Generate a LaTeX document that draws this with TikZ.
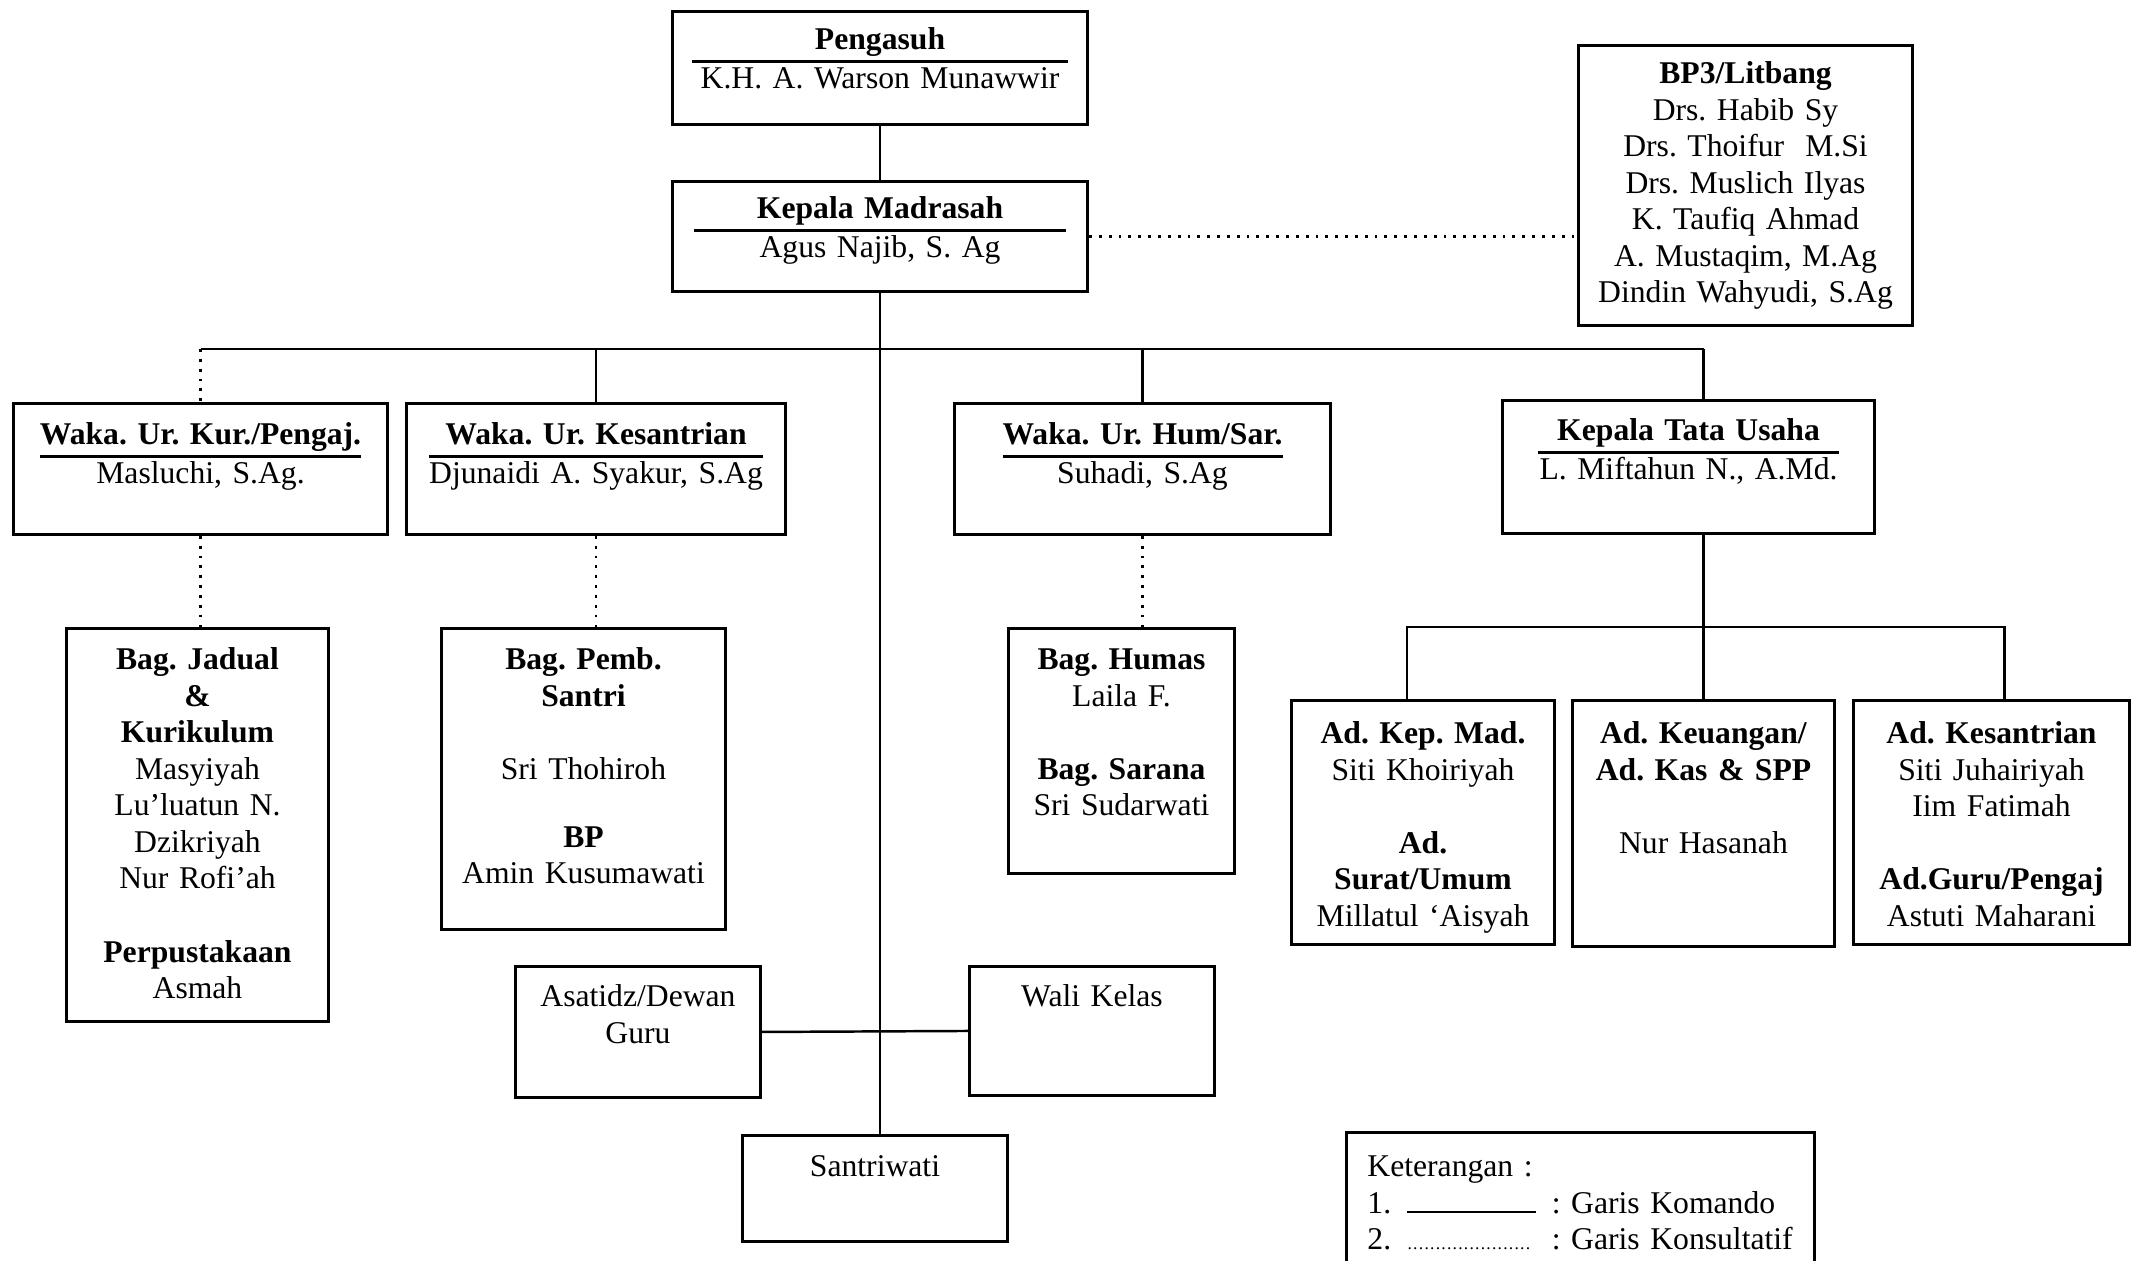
\documentclass[tikz,border=0pt]{standalone}
\usepackage{fontspec}
\setmainfont{Liberation Serif}
\usepackage{tikz}

\newcommand{\judul}[2]{\begin{tabular}[t]{@{}c@{}}\textbf{#1}\\\hline #2\end{tabular}}
\newcommand{\titik}{\leaders\hbox to 1.6pt{\hss\tiny.\hss}\hfill}

\begin{document}
\begin{tikzpicture}[x=0.01cm, y=-0.01cm, font=\fontsize{9}{10.4}\selectfont\frenchspacing,
    box/.style={draw, line width=0.8pt, anchor=north west, inner sep=0pt, align=center},
    komando/.style={line width=0.7pt},
    konsul/.style={line width=0.8pt, dotted}]
    \clip (0,0) rectangle (2137,1260);
    \setlength{\arrayrulewidth}{0.6pt}

    % pimpinan
    \node[box, text width=4.15cm, text height=0.38cm, text depth=0.75cm] (pengasuh) at (671,10)
        {\judul{\makebox[3.75cm]{Pengasuh}}{K.H. A. Warson Munawwir}};
    \node[box, text width=4.15cm, text height=0.37cm, text depth=0.73cm] (kepala) at (671,180)
        {\judul{\makebox[3.72cm]{Kepala Madrasah}}{Agus Najib, S. Ag}};
    \node[box, text width=3.34cm, text height=0.38cm, text depth=2.42cm] (bp3) at (1577,44)
        {\textbf{BP3/Litbang}\\ Drs. Habib Sy\\ Drs. Thoifur~ M.Si\\ Drs. Muslich Ilyas\\
         K. Taufiq Ahmad\\ A. Mustaqim, M.Ag\\ Dindin Wahyudi, S.Ag};

    % wakil kepala
    \node[box, text width=3.74cm, text height=0.41cm, text depth=0.90cm] (wkur) at (12,402)
        {\judul{Waka. Ur. Kur./Pengaj.}{Masluchi, S.Ag.}};
    \node[box, text width=3.79cm, text height=0.41cm, text depth=0.90cm] (wkes) at (405,402)
        {\judul{Waka. Ur. Kesantrian}{Djunaidi A. Syakur, S.Ag}};
    \node[box, text width=3.76cm, text height=0.41cm, text depth=0.90cm] (whum) at (953,402)
        {\judul{Waka. Ur. Hum/Sar.}{Suhadi, S.Ag}};
    \node[box, text width=3.72cm, text height=0.40cm, text depth=0.93cm] (ktu) at (1501,399)
        {\judul{\makebox[3.0cm]{Kepala Tata Usaha}}{L. Miftahun N., A.Md.}};

    % bagian
    \node[box, text width=2.62cm, text height=0.41cm, text depth=3.52cm] (jadual) at (65,627)
        {\textbf{Bag. Jadual}\\ \textbf{\&}\\ \textbf{Kurikulum}\\ Masyiyah\\ Lu'luatun N.\\
         Dzikriyah\\ Nur Rofi'ah\\[10.4pt] \textbf{Perpustakaan}\\ Asmah};
    \node[box, text width=2.84cm, text height=0.41cm, text depth=2.60cm] (pemb) at (440,627)
        {\textbf{Bag. Pemb.}\\ \textbf{Santri}\\[10.4pt] Sri Thohiroh\\[9pt] \textbf{BP}\\ Amin Kusumawati};
    \node[box, text width=2.26cm, text height=0.41cm, text depth=2.04cm] (humas) at (1007,627)
        {\textbf{Bag. Humas}\\ Laila F.\\[10.4pt] \textbf{Bag. Sarana}\\ Sri Sudarwati};

    % tata usaha
    \node[box, text width=2.63cm, text height=0.43cm, text depth=2.01cm] (adkep) at (1290,699)
        {\textbf{Ad. Kep. Mad.}\\ Siti Khoiriyah\\[10.4pt] \textbf{Ad.}\\ \textbf{Surat/Umum}\\ Millatul `Aisyah};
    \node[box, text width=2.62cm, text height=0.43cm, text depth=2.03cm] (adkeu) at (1571,699)
        {\textbf{Ad. Keuangan/}\\ \textbf{Ad. Kas \& SPP}\\[10.4pt] Nur Hasanah};
    \node[box, text width=2.76cm, text height=0.43cm, text depth=2.01cm] (adkes) at (1852,699)
        {\textbf{Ad. Kesantrian}\\ Siti Juhairiyah\\ Iim Fatimah\\[10.4pt] \textbf{Ad.Guru/Pengaj}\\ Astuti Maharani};

    % guru dan santri
    \node[box, text width=2.45cm, text height=0.40cm, text depth=0.91cm] (asatidz) at (514,965)
        {Asatidz/Dewan\\ Guru};
    \node[box, text width=2.45cm, text height=0.40cm, text depth=0.89cm] (wali) at (968,965)
        {Wali Kelas};
    \node[box, text width=2.65cm, text height=0.41cm, text depth=0.65cm] (santri) at (741,1134)
        {Santriwati};

    % keterangan
    \node[box, align=left, inner xsep=0.21cm, text width=4.26cm, text height=0.44cm, text depth=1.6cm] (ket) at (1345,1131)
        {Keterangan :\\
         \mbox{1.\enskip\rule{1.29cm}{0.6pt}\enskip: Garis Komando}\\
         \mbox{2.\enskip\makebox[1.29cm]{\titik}\enskip: Garis Konsultatif}};

    % garis
    \coordinate (bus) at (878,349);
    \coordinate (sub) at (1704,627);
    \draw[komando] (pengasuh.south) -- (kepala.north);
    \draw[konsul] (kepala.east) -- (bp3.west |- kepala.east);
    \draw[komando] (kepala.south) -- (kepala.south |- santri.north);
    \draw[komando] (wkur.north |- bus) -- (adkeu.north |- bus);
    \draw[konsul] (wkur.north |- bus) -- (wkur.north);
    \draw[komando] (wkes.north |- bus) -- (wkes.north);
    \draw[komando] (whum.north |- bus) -- (whum.north);
    \draw[komando] (adkeu.north |- bus) -- (adkeu.north |- ktu.north);
    \draw[komando] (adkeu.north |- ktu.south) -- (adkeu.north);
    \draw[komando] ([xshift=-0.16cm]adkep.north) |- (sub) -| ([xshift=0.13cm]adkes.north);
    \draw[konsul] (wkur.south) -- (wkur.south |- jadual.north);
    \draw[konsul] (wkes.south) -- (wkes.south |- pemb.north);
    \draw[konsul] (whum.south) -- (whum.south |- humas.north);
    \draw[komando] (asatidz.east) -- (wali.west);
\end{tikzpicture}
\end{document}
